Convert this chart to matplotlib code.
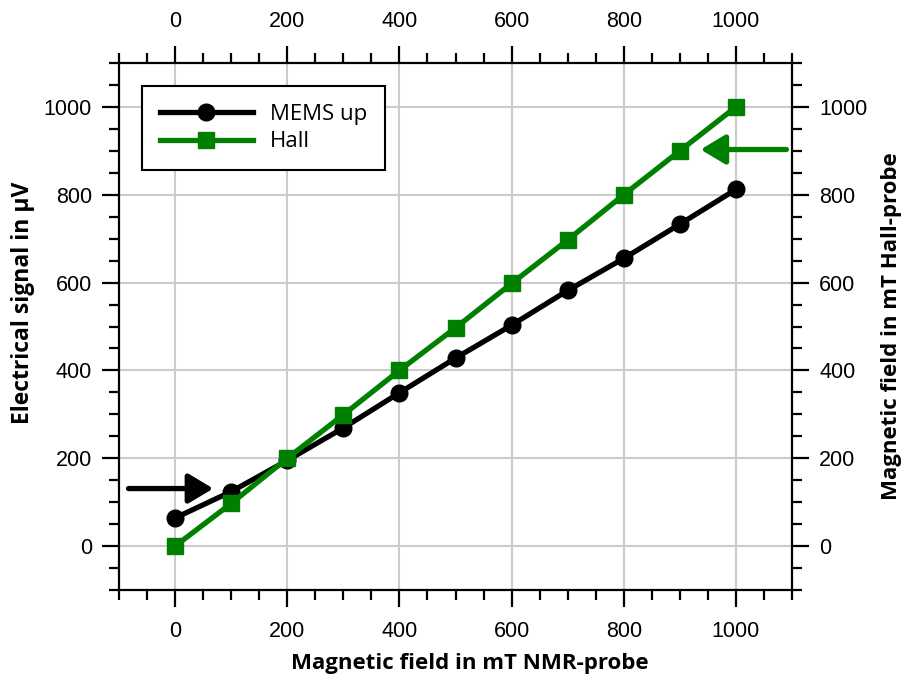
import matplotlib
matplotlib.use("Agg")
import matplotlib.pyplot as plt
from matplotlib.ticker import MultipleLocator

# ── data ──────────────────────────────────────────
field_mT   = [0, 100, 200, 300, 400, 500, 600, 700, 800, 900, 1000]
mems_up_uV = [64, 124, 195, 269, 349, 428, 503, 582, 655, 733, 812]
hall_mT    = [0, 97, 200, 299, 400, 497, 598, 697, 800, 900, 1000]

# annotation arrows (tail -> tip, data coords)
mems_arrow = [(-83, 131), (68, 131)]
hall_arrow = [(1090, 903), (937, 903)]

GREEN = "#008000"
LABEL_FONT = ["Open Sans", "DejaVu Sans"]
TICK_FONT  = ["Liberation Sans", "DejaVu Sans"]

fig = plt.figure(figsize=(9.02, 6.79), dpi=100)
ax = fig.add_axes([119/902, 1 - 590/679, (792 - 119)/902, (590 - 63)/679])

ax.plot(field_mT, mems_up_uV, color="black", lw=3.8, marker="o", ms=12,
        label="MEMS up", zorder=3)
ax.plot(field_mT, hall_mT, color=GREEN, lw=3.8, marker="s", ms=11,
        label="Hall", zorder=4)

ax.set_xlim(-100, 1100)
ax.set_ylim(-100, 1100)

for a in (ax.xaxis, ax.yaxis):
    a.set_major_locator(MultipleLocator(200))
    a.set_minor_locator(MultipleLocator(50))
ax.grid(True, which="major", color="#cccccc", lw=1.5, zorder=0)
ax.set_axisbelow(True)

for s in ax.spines.values():
    s.set_linewidth(1.6)

ax.tick_params(which="both", direction="out", width=1.6,
               top=True, right=True, labeltop=True, labelright=True)
ax.tick_params(which="major", length=12.5)
ax.tick_params(which="minor", length=7.5)
ax.tick_params(axis="x", pad=10, labelsize=15.5)
ax.tick_params(axis="y", pad=7, labelsize=15.5)
for lbl in ax.get_xticklabels() + ax.get_yticklabels():
    lbl.set_family(TICK_FONT)

# axis titles
fig.text(470/902, 1 - 663/679, "Magnetic field in mT NMR-probe", ha="center",
         va="center", fontsize=16, fontweight="bold", family=LABEL_FONT)
fig.text(23/902, 1 - 303/679, "Electrical signal in µV", rotation=90,
         ha="center", va="center", fontsize=16.5, fontweight="bold",
         family=LABEL_FONT)
fig.text(892/902, 1 - 326/679, "Magnetic field in mT Hall-probe", rotation=90,
         ha="center", va="center", fontsize=16, fontweight="bold",
         family=LABEL_FONT)

for (tail, tip), col in ((mems_arrow, "black"), (hall_arrow, GREEN)):
    ax.annotate("", xy=tip, xytext=tail, annotation_clip=False,
                arrowprops=dict(arrowstyle="-|>,head_length=0.75,head_width=0.45",
                                lw=3.8, color=col, mutation_scale=20,
                                shrinkA=0, shrinkB=0))

leg = ax.legend(loc="upper left",
                bbox_to_anchor=((142 - 119)/673, 1 - (86 - 63)/527),
                borderaxespad=0, fancybox=False, edgecolor="black",
                framealpha=1, handlelength=4.2,
                borderpad=0.8, labelspacing=0.3, handletextpad=0.75,
                prop={"family": LABEL_FONT, "size": 16})
leg.get_frame().set_linewidth(1.5)

fig.savefig("out.png", dpi=100)
